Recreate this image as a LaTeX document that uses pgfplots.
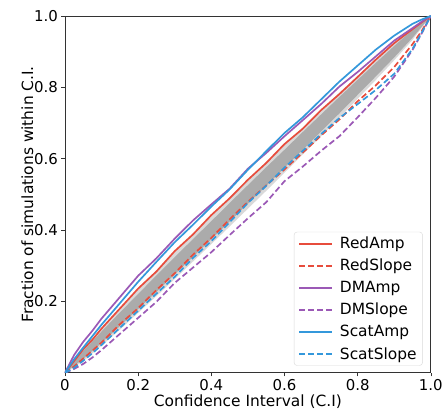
\documentclass[border=0pt]{standalone}
\usepackage{fontspec}
\setmainfont{DejaVu Sans}
\usepackage{pgfplots}
\pgfplotsset{compat=1.18}

\definecolor{cred}{HTML}{E74C3C}
\definecolor{cpurple}{HTML}{9B59B6}
\definecolor{cblue}{HTML}{3498DB}

\begin{document}
\begin{tikzpicture}
\begin{axis}[
  name=main,
  scale only axis,
  width=366bp, height=357bp,
  xmin=0, xmax=1, ymin=0, ymax=1,
  xtick={0,0.2,0.4,0.6,0.8,1.0},
  xticklabels={0,0.2,0.4,0.6,0.8,1.0},
  ytick={0.2,0.4,0.6,0.8,1.0},
  yticklabels={0.2,0.4,0.6,0.8,1.0},
  tick align=outside,
  tick pos=left,
  major tick length=3.5bp,
  every tick/.style={black!80, line width=0.6bp},
  axis line style={black!80, line width=0.8bp},
  tick label style={font=\fontsize{15}{18}\selectfont},
  label style={font=\fontsize{15.5}{18}\selectfont},
  xlabel={Confidence Interval (C.I)},
  ylabel={Fraction of simulations within C.I.},
  xlabel style={yshift=3bp},
  ylabel style={yshift=-6bp},
  legend style={at={(0.978,0.02)}, anchor=south east, draw=black!15,
    rounded corners=3bp, font=\fontsize{15.5}{18}\selectfont,
    row sep=5bp, inner xsep=4bp, inner ysep=3bp,
    /tikz/every odd column/.append style={column sep=5bp}},
  legend cell align=left,
  legend image code/.code={\draw[#1, line width=1.9bp] (0bp,0bp) -- (33bp,0bp);},
  every axis plot/.append style={line width=1.7bp},
]
% light grey band of simulations
\addplot[draw=none, fill=black!15, forget plot] coordinates {
(0,0) (0.05,0.067) (0.1,0.124) (0.15,0.179) (0.2,0.232) (0.25,0.285) (0.3,0.337)
(0.35,0.388) (0.4,0.439) (0.45,0.49) (0.5,0.54) (0.55,0.59) (0.6,0.639) (0.65,0.688)
(0.7,0.737) (0.75,0.785) (0.8,0.832) (0.85,0.879) (0.9,0.924) (0.95,0.967) (1,1)
(0.95,0.933) (0.9,0.876) (0.85,0.821) (0.8,0.768) (0.75,0.715) (0.7,0.663)
(0.65,0.612) (0.6,0.561) (0.55,0.51) (0.5,0.46) (0.45,0.41) (0.4,0.361)
(0.35,0.312) (0.3,0.263) (0.25,0.215) (0.2,0.168) (0.15,0.121) (0.1,0.076)
(0.05,0.033) (0,0)};
% dark grey core of the band
\addplot[draw=none, fill=black!33, forget plot] coordinates {
(0,0) (0.05,0.061) (0.1,0.116) (0.15,0.169) (0.2,0.221) (0.25,0.273) (0.3,0.324)
(0.35,0.375) (0.4,0.425) (0.45,0.476) (0.5,0.526) (0.55,0.576) (0.6,0.625) (0.65,0.675)
(0.7,0.724) (0.75,0.773) (0.8,0.821) (0.85,0.869) (0.9,0.916) (0.95,0.961) (1,1)
(0.95,0.939) (0.9,0.884) (0.85,0.831) (0.8,0.779) (0.75,0.727) (0.7,0.676)
(0.65,0.625) (0.6,0.575) (0.55,0.524) (0.5,0.474) (0.45,0.424) (0.4,0.375)
(0.35,0.325) (0.3,0.276) (0.25,0.227) (0.2,0.179) (0.15,0.131) (0.1,0.084)
(0.05,0.039) (0,0)};

\addplot[cred] coordinates {
(0,0) (0.025,0.033) (0.05,0.066) (0.075,0.093) (0.1,0.124) (0.15,0.18) (0.2,0.236)
(0.25,0.284) (0.3,0.341) (0.35,0.388) (0.4,0.442) (0.45,0.489) (0.5,0.541)
(0.55,0.588) (0.6,0.641) (0.65,0.684) (0.7,0.736) (0.75,0.781) (0.8,0.829)
(0.85,0.878) (0.9,0.924) (0.95,0.963) (0.975,0.982) (1,1)};
\addlegendentry{RedAmp}
\addplot[cred, dash pattern=on 6bp off 3bp] coordinates {
(0,0) (0.025,0.018) (0.05,0.04) (0.075,0.062) (0.1,0.085) (0.15,0.136) (0.2,0.181)
(0.25,0.232) (0.3,0.279) (0.35,0.331) (0.4,0.378) (0.45,0.43) (0.5,0.479)
(0.55,0.525) (0.6,0.57) (0.65,0.617) (0.7,0.665) (0.75,0.71) (0.8,0.761)
(0.85,0.806) (0.9,0.857) (0.95,0.921) (0.975,0.958) (1,1)};
\addlegendentry{RedSlope}
\addplot[cpurple] coordinates {
(0,0) (0.025,0.05) (0.05,0.087) (0.075,0.118) (0.1,0.152) (0.15,0.212) (0.2,0.272)
(0.25,0.321) (0.3,0.376) (0.35,0.427) (0.4,0.472) (0.45,0.516) (0.5,0.572)
(0.55,0.616) (0.6,0.663) (0.65,0.708) (0.7,0.753) (0.75,0.802) (0.8,0.843)
(0.85,0.887) (0.9,0.931) (0.95,0.966) (0.975,0.984) (1,1)};
\addlegendentry{DMAmp}
\addplot[cpurple, dash pattern=on 6bp off 3bp] coordinates {
(0,0) (0.025,0.011) (0.05,0.025) (0.075,0.043) (0.1,0.064) (0.15,0.109) (0.2,0.154)
(0.25,0.199) (0.3,0.252) (0.35,0.295) (0.4,0.338) (0.45,0.386) (0.5,0.433)
(0.55,0.478) (0.6,0.537) (0.65,0.578) (0.7,0.622) (0.75,0.663) (0.8,0.716)
(0.85,0.771) (0.9,0.83) (0.95,0.905) (0.975,0.951) (1,1)};
\addlegendentry{DMSlope}
\addplot[cblue] coordinates {
(0,0) (0.025,0.038) (0.05,0.071) (0.075,0.103) (0.1,0.135) (0.15,0.195) (0.2,0.255)
(0.25,0.311) (0.3,0.366) (0.35,0.415) (0.4,0.466) (0.45,0.514) (0.5,0.569)
(0.55,0.621) (0.6,0.672) (0.65,0.716) (0.7,0.766) (0.75,0.816) (0.8,0.861)
(0.85,0.906) (0.9,0.945) (0.95,0.978) (0.975,0.99) (1,1)};
\addlegendentry{ScatAmp}
\addplot[cblue, dash pattern=on 6bp off 3bp] coordinates {
(0,0) (0.025,0.014) (0.05,0.034) (0.075,0.055) (0.1,0.078) (0.15,0.126) (0.2,0.174)
(0.25,0.222) (0.3,0.269) (0.35,0.322) (0.4,0.369) (0.45,0.422) (0.5,0.476)
(0.55,0.524) (0.6,0.575) (0.65,0.622) (0.7,0.669) (0.75,0.714) (0.8,0.753)
(0.85,0.793) (0.9,0.838) (0.95,0.908) (0.975,0.953) (1,1)};
\addlegendentry{ScatSlope}
\end{axis}
\path ([xshift=-65bp,yshift=-37bp]main.south west) rectangle ([xshift=15bp,yshift=16bp]main.north east);
\end{tikzpicture}
\end{document}
